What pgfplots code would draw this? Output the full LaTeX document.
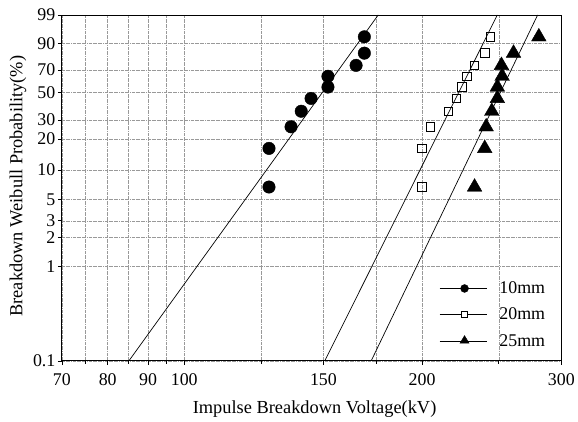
\documentclass[border=0pt]{standalone}
\usepackage{fontspec}
\setmainfont{Liberation Serif}
\usepackage{pgfplots}
\pgfplotsset{compat=1.18}
\usepackage{pgfplotstable}

\pgfplotstableread{
V F
128 6.7
128 16.3
136.5 26.0
140.6 35.6
144.7 45.2
152 54.8
152 64.4
165 74.0
169 83.7
169 93.3
}\tenmm
\pgfplotstableread{
V F
200 6.7
200 16.3
205 26.0
216 35.6
221 45.2
224.5 54.8
228 64.4
233 74.0
240 83.7
244 93.3
}\twentymm
\pgfplotstableread{
V F
233 6.7
240 16.3
241 26.0
245 35.6
249 45.2
249 54.8
252.5 64.4
252 74.0
261 83.7
281 93.3
}\twentyfivemm

\begin{document}
\begin{tikzpicture}
\begin{axis}[
  scale only axis,
  width=501bp, height=347bp,
  xmode=log,
  xmin=70, xmax=300,
  ymin=-6.9073, ymax=1.5272,
  log basis x=10,
  xtick={70,80,90,100,150,200,300},
  xticklabels={70,80,90,100,150,200,300},
  minor xtick={75,85,95,125,175,250},
  ytick={-6.9073,-4.6001,-3.9019,-3.4913,-2.9702,-2.2504,-1.4999,-1.0309,-0.3665,0.1856,0.8340,1.5272},
  yticklabels={0.1,1,2,3,5,10,20,30,50,70,90,99},
  xmajorgrids, xminorgrids, ymajorgrids,
  grid style={densely dashdotted, black!40, line width=0.4pt},
  minor grid style={densely dashdotted, black!40, line width=0.4pt},
  axis line style={black, line width=0.9pt},
  tick align=outside,
  tick pos=left,
  major tick length=4bp,
  minor tick length=3bp,
  tick style={black, line width=0.6pt},
  tick label style={font=\fontsize{18}{20}\selectfont},
  xticklabel style={yshift=-5bp},
  yticklabel style={xshift=1bp},
  /pgf/number format/assume math mode=true,
  xlabel={Impulse Breakdown Voltage(kV)},
  ylabel={Breakdown Weibull Probability(\%)},
  label style={font=\fontsize{18.5}{20}\selectfont},
  xlabel style={at={(rel axis cs:0.506,-0.14)}, anchor=center},
  ylabel style={at={(rel axis cs:-0.0878,0.505)}, anchor=center},
  legend style={at={(rel axis cs:0.972,0.235)}, anchor=north east, draw=none, fill=none,
    font=\fontsize{18}{20}\selectfont, row sep=9bp, inner sep=0pt, cells={anchor=west}},
  legend cell align=left,
  clip=true,
]
% fit lines
\addplot[black, line width=0.7pt, forget plot] coordinates {(85.1,-6.9073) (176,1.5272)};
\addplot[black, line width=0.7pt, forget plot] coordinates {(150.6,-6.9073) (249,1.5272)};
\addplot[black, line width=0.7pt, forget plot] coordinates {(172.4,-6.9073) (280,1.5272)};
% data
\addplot[only marks, mark=*, mark size=6.3pt, mark options={fill=black, draw=black},
  legend image code/.code={\path[draw=none, fill=none] (0bp,-1bp) rectangle (58bp,1bp);
    \draw[black, line width=1.2pt] (0bp,0bp) -- (48bp,0bp);
    \fill[black] (25bp,0bp) circle (4bp);}]
  table[x=V, y expr={ln(-ln(1-\thisrow{F}/100))}] {\tenmm};
\addlegendentry{10mm}
\addplot[only marks, mark=square, mark size=4.3pt, mark options={draw=black, fill=white, line width=0.9pt},
  legend image code/.code={\path[draw=none, fill=none] (0bp,-1bp) rectangle (58bp,1bp);
    \draw[black, line width=1.2pt] (0bp,0bp) -- (48bp,0bp);
    \draw[black, fill=white, line width=0.8pt] (22bp,-3bp) rectangle (28bp,3bp);}]
  table[x=V, y expr={ln(-ln(1-\thisrow{F}/100))}] {\twentymm};
\addlegendentry{20mm}
\addplot[only marks, mark=triangle*, mark size=8.5pt, mark options={fill=black, draw=black},
  legend image code/.code={\path[draw=none, fill=none] (0bp,-1bp) rectangle (58bp,1bp);
    \draw[black, line width=1.2pt] (0bp,0bp) -- (48bp,0bp);
    \fill[black] (20.5bp,-2bp) -- (29.5bp,-2bp) -- (25bp,5.5bp) -- cycle;}]
  table[x=V, y expr={ln(-ln(1-\thisrow{F}/100))}] {\twentyfivemm};
\addlegendentry{25mm}
\end{axis}
\path ([shift={(-62bp,-61bp)}]current axis.south west) rectangle ([shift={(15bp,15bp)}]current axis.north east);
\end{tikzpicture}
\end{document}
